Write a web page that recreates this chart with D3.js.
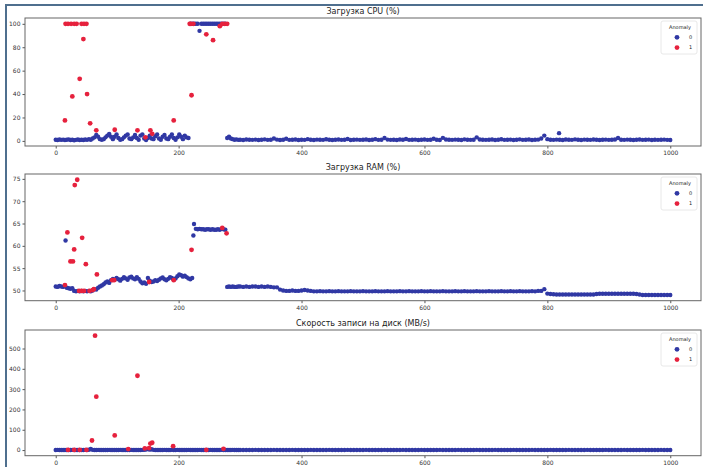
<!DOCTYPE html>
<html>
<head>
<meta charset="utf-8">
<script src="https://cdn.jsdelivr.net/npm/d3@7"></script>
<style>
  body { margin: 0; background: #fff; }
  svg { display: block; }
  text { font-family: "DejaVu Sans", sans-serif; fill: #333; }
</style>
</head>
<body>
<svg id="chart" width="703" height="467"></svg>
<script>
// ---- data ----
var titles = ["Загрузка CPU (%)", "Загрузка RAM (%)", "Скорость записи на диск (MB/s)"];
var legendTitle = "Anomaly";
var legendLabels = ["0", "1"];
var xTicks = [0, 200, 400, 600, 800, 1000];
var cpuTicks = [0, 20, 40, 60, 80, 100];
var ramTicks = [50, 55, 60, 65, 70, 75];
var diskTicks = [0, 100, 200, 300, 400, 500];

// samples at index 0,3,...,297 then 300,305,...,1000
var earlyIdx = d3.range(0, 300, 3);
var lateIdx = d3.range(300, 1001, 5);

var cpuEarly = [
  1.0, 0.8, 1.2, 0.9, 1.1,  0.7, 1.0, 1.3, 0.8, 1.0,
  0.6, 0.9, 1.2, 0.8, 1.0,  0.7, 1.2, 0.9, 1.5, 1.0,
  2.0, 3.0, 5.0, 3.5, 1.5,  1.0, 1.5, 3.0, 4.5, 6.0,
  3.5, 1.5, 3.5, 5.5, 2.5,  1.0, 1.5, 3.0, 4.5, 5.5,
  2.0, 1.5, 3.0, 5.0, 2.5,  1.0, 4.5, 5.5, 2.0, 0.8,
  2.5, 4.5, 2.0, 1.5, 4.0,  5.5, 2.0, 1.0, 3.5, 5.0,
  2.0, 1.5, 3.5, 5.5, 2.5,  1.0, 3.0, 5.5, 3.5, 1.5,
  4.5, 3.0, 2.5, 100, 100,  100, 100, 100, 94, 100,
  100, 100, 100, 100, 100,  100, 100, 100, 100, 100,
  100, 100, 100, 2.5, 3.5,  2.0, 1.5, 1.0, 1.3, 0.9
];
var cpuLate = [
  1.0, 0.8, 1.2, 1.0, 0.9, 1.1, 0.8, 1.0, 1.3, 0.9,
  1.0, 2.0, 1.1, 0.8, 1.0, 1.8, 0.9, 1.0, 1.2, 0.8,
  1.0, 0.9, 1.5, 1.0, 0.8, 1.1, 1.0, 0.9, 1.4, 1.0,
  0.8, 1.0, 1.2, 0.9, 1.0, 1.6, 0.8, 1.0, 1.1, 0.9,
  1.0, 1.2, 0.8, 1.0, 1.5, 0.9, 1.0, 2.5, 1.1, 0.9,
  1.0, 0.8, 1.2, 1.0, 1.6, 0.9, 1.0, 1.1, 0.8, 1.0,
  1.2, 0.9, 1.0, 1.8, 1.0, 0.8, 2.6, 1.2, 1.0, 0.9,
  1.1, 1.0, 0.8, 1.3, 1.0, 0.9, 1.0, 3.0, 1.2, 1.0,
  0.9, 1.0, 1.2, 0.8, 1.0, 1.4, 0.9, 1.0, 1.1, 0.8,
  1.0, 1.3, 0.9, 1.0, 1.2, 0.8, 1.0, 1.1, 2.0, 4.5,
  1.5, 1.0, 0.9, 1.1, 1.0, 0.8, 1.2, 1.0, 0.9, 1.3,
  1.0, 0.8, 1.1, 1.0, 0.9, 1.2, 1.0, 0.8, 1.0, 1.1,
  0.9, 1.0, 1.2, 2.5, 1.0, 0.9, 1.1, 1.0, 0.8, 1.0,
  1.2, 0.9, 1.0, 1.1, 0.8, 1.0, 0.9, 1.0, 1.1, 0.9,
  0.8
];
var cpuExtraIdx = [819];
var cpuExtraVal = [6.6];
var cpuAnomIdx = [15, 16, 20, 25, 27, 30, 34, 39, 42, 45, 46, 50, 51, 56, 66, 96, 133, 146, 154, 157, 192, 218, 220, 221, 224, 245, 256, 267, 271, 275, 279];
var cpuAnomVal = [17.5, 100, 100, 100, 38, 100, 100, 53, 100, 87, 100, 100, 40, 15, 9, 9.5, 9, 3, 9, 6, 17.5, 100, 100, 39, 100, 91, 86, 98, 100, 100, 100];

var ramEarly = [
  50.9, 50.8, 51.0, 50.9, 50.8,  51.0, 50.6, 50.5, 50.4, 50.5,
  49.9, 49.8, 49.9, 49.8, 49.9,  49.8, 49.9, 49.8, 49.9, 49.8,
  50.0, 50.3, 50.2, 50.6, 50.9,  51.1, 51.4, 51.8, 52.0, 51.7,
  52.3, 52.6, 52.4, 52.8, 52.5,  52.2, 52.6, 53.0, 52.7, 52.4,
  52.9, 53.1, 52.7, 52.5, 53.0,  52.6, 52.0, 51.6, 51.8, 51.5,
  52.8, 52.2, 51.9, 52.0, 52.3,  52.1, 52.4, 52.7, 52.9, 52.5,
  52.3, 52.6, 53.0, 52.8, 52.4,  52.7, 53.2, 53.6, 53.4, 53.1,
  53.3, 53.0, 52.7, 52.5, 52.8,  64.9, 63.8, 63.7, 63.8, 63.7,
  63.7, 63.6, 63.7, 63.7, 63.6,  63.7, 63.6, 63.6, 63.7, 63.6,
  63.8, 63.7, 63.6, 50.8, 50.9,  50.8, 50.9, 50.8, 50.8, 50.9
];
var ramLate = [
  50.9, 50.8, 50.9, 50.8, 50.9, 50.9, 50.8, 50.9, 50.8, 50.9,
  50.8, 50.7, 50.7, 50.2, 50.0, 49.9, 49.9, 50.0, 49.9, 49.9,
  50.0, 50.1, 50.0, 49.9, 49.8, 49.8, 49.85, 49.8, 49.8, 49.85,
  49.8, 49.8, 49.85, 49.8, 49.8, 49.8, 49.85, 49.8, 49.8, 49.8,
  49.85, 49.8, 49.8, 49.8, 49.85, 49.8, 49.8, 49.8, 49.85, 49.8,
  49.8, 49.8, 49.85, 49.8, 49.8, 49.85, 49.8, 49.8, 49.8, 49.85,
  49.8, 49.8, 49.85, 49.8, 49.8, 49.8, 49.85, 49.8, 49.8, 49.8,
  49.85, 49.8, 49.8, 49.85, 49.8, 49.8, 49.8, 49.85, 49.8, 49.8,
  49.8, 49.85, 49.8, 49.8, 49.8, 49.85, 49.8, 49.8, 49.85, 49.8,
  49.8, 49.85, 49.8, 49.8, 49.8, 49.85, 49.8, 49.9, 49.9, 50.3,
  49.3, 49.2, 49.15, 49.1, 49.1, 49.1, 49.1, 49.1, 49.1, 49.1,
  49.1, 49.1, 49.1, 49.1, 49.1, 49.1, 49.2, 49.25, 49.25, 49.25,
  49.25, 49.25, 49.25, 49.25, 49.25, 49.25, 49.25, 49.25, 49.25, 49.2,
  49.1, 49.0, 49.0, 49.0, 49.0, 49.0, 49.0, 49.0, 49.0, 49.0,
  49.0
];
var ramExtraIdx = [16, 224];
var ramExtraVal = [61.2, 62.3];
var ramAnomIdx = [15, 19, 24, 28, 30, 31, 35, 38, 42, 43, 46, 49, 55, 60, 62, 67, 92, 95, 152, 192, 221, 271, 278];
var ramAnomVal = [51.2, 63.0, 56.5, 56.5, 59.2, 73.6, 74.8, 49.9, 49.9, 61.8, 49.9, 55.9, 49.9, 50.1, 50.3, 53.6, 52.3, 52.3, 51.9, 52.3, 59.1, 64.0, 62.8];

var diskEarly = [
  0.5, 0.8, 0.4, 0.6, 0.5,  0.7, 0.4, 0.6, 0.5, 0.8,
  0.5, 0.6, 0.4, 0.7, 0.5,  0.6, 0.8, 0.5, 1.5, 5.0,
  1.0, 0.6, 0.5, 0.8, 0.6,  0.5, 0.7, 0.6, 0.5, 0.8,
  0.6, 0.5, 0.7, 0.6, 0.5,  0.8, 0.6, 0.5, 0.7, 0.6,
  0.5, 0.8, 0.6, 0.5, 0.7,  0.6, 0.5, 0.8, 1.5, 3.0,
  5.0, 2.0, 4.0, 1.0, 0.6,  0.5, 0.7, 0.6, 0.5, 0.8,
  0.6, 0.5, 0.7, 1.0, 0.6,  0.5, 0.8, 0.6, 0.5, 0.7,
  0.6, 0.5, 0.8, 0.6, 0.5,  0.7, 0.6, 0.5, 0.8, 0.6,
  0.5, 0.7, 0.6, 0.5, 0.8,  0.6, 0.5, 0.7, 0.6, 0.5,
  0.8, 0.6, 0.5, 0.7, 0.6,  0.5, 0.8, 0.6, 0.5, 0.7
];
var diskLate = [
  0.6, 0.5, 0.7, 0.6, 0.5, 0.8, 0.6, 0.5, 0.7, 0.6,
  0.5, 0.8, 0.6, 0.5, 0.7, 0.6, 0.5, 0.8, 0.6, 0.5,
  0.7, 0.6, 0.5, 0.8, 0.6, 0.5, 0.7, 0.6, 0.5, 0.8,
  0.6, 0.5, 0.7, 0.6, 0.5, 0.8, 0.6, 0.5, 0.7, 0.6,
  0.5, 0.8, 0.6, 0.5, 0.7, 0.6, 0.5, 0.8, 0.6, 0.5,
  0.7, 0.6, 0.5, 0.8, 0.6, 0.5, 0.7, 0.6, 0.5, 0.8,
  0.6, 0.5, 0.7, 0.6, 0.5, 0.8, 0.6, 0.5, 0.7, 0.6,
  0.5, 0.8, 0.6, 0.5, 0.7, 0.6, 0.5, 0.8, 0.6, 0.5,
  0.7, 0.6, 0.5, 0.8, 0.6, 0.5, 0.7, 0.6, 0.5, 0.8,
  0.6, 0.5, 0.7, 0.6, 0.5, 0.8, 0.6, 0.5, 0.7, 0.6,
  0.5, 0.8, 0.6, 0.5, 0.7, 0.6, 0.5, 0.8, 0.6, 0.5,
  0.7, 0.6, 0.5, 0.8, 0.6, 0.5, 0.7, 0.6, 0.5, 0.8,
  0.6, 0.5, 0.7, 0.6, 0.5, 0.8, 0.6, 0.5, 0.7, 0.6,
  0.5, 0.8, 0.6, 0.5, 0.7, 0.6, 0.5, 0.8, 0.6, 0.5,
  0.6
];
var diskExtraIdx = [];
var diskExtraVal = [];
var diskAnomIdx = [20, 30, 39, 50, 59, 64, 66, 96, 118, 133, 145, 152, 154, 157, 191, 245, 273];
var diskAnomVal = [0.5, 0.5, 0.5, 0.6, 47, 563, 263, 72, 5, 366, 8, 10, 32, 36, 19, 0.5, 6];

// ---- layout ----
var colors = ["#3038a4", "#e6213d"];
var svg = d3.select("#chart");
var left = 25, right = 701;

// outer frame of the screenshot
svg.append("rect")
  .attr("x", 6).attr("y", 5).attr("width", 720).attr("height", 480)
  .attr("fill", "none").attr("stroke", "#4f6f8e").attr("stroke-width", 2);

var x = d3.scaleLinear().domain([-50, 1050]).range([left, right]);

function zip(idx, vals) {
  var n = Math.min(idx.length, vals.length);
  return d3.range(n).map(function(i) { return {i: idx[i], v: vals[i]}; });
}

var panels = [
  {title: titles[0], top: 18, bottom: 146, ticks: cpuTicks,
   normal: zip(earlyIdx, cpuEarly).concat(zip(lateIdx, cpuLate), zip(cpuExtraIdx, cpuExtraVal)),
   anom: zip(cpuAnomIdx, cpuAnomVal)},
  {title: titles[1], top: 174, bottom: 300.7, ticks: ramTicks,
   normal: zip(earlyIdx, ramEarly).concat(zip(lateIdx, ramLate), zip(ramExtraIdx, ramExtraVal)),
   anom: zip(ramAnomIdx, ramAnomVal)},
  {title: titles[2], top: 330, bottom: 455.7, ticks: diskTicks,
   normal: zip(earlyIdx, diskEarly).concat(zip(lateIdx, diskLate), zip(diskExtraIdx, diskExtraVal)),
   anom: zip(diskAnomIdx, diskAnomVal)}
];

panels.forEach(function(p) {
  var all = p.normal.concat(p.anom);
  var lo = d3.min(all, function(d) { return d.v; });
  var hi = d3.max(all, function(d) { return d.v; });
  var pad = (hi - lo) * 0.05;
  var y = d3.scaleLinear().domain([lo - pad, hi + pad]).range([p.bottom, p.top]);

  var g = svg.append("g");

  // title
  g.append("text")
    .attr("x", (left + right) / 2).attr("y", p.top - 4)
    .attr("text-anchor", "middle")
    .style("font-size", "8px").style("fill", "#222")
    .text(p.title);

  // axes
  var xa = g.append("g").attr("transform", "translate(0," + p.bottom + ")")
    .call(d3.axisBottom(x).tickValues(xTicks).tickFormat(d3.format("d"))
      .tickSize(2.5).tickPadding(2.5));
  var ya = g.append("g").attr("transform", "translate(" + left + ",0)")
    .call(d3.axisLeft(y).tickValues(p.ticks).tickSize(2.5).tickPadding(2));
  [xa, ya].forEach(function(a) {
    a.select(".domain").remove();
    a.selectAll("line").attr("stroke", "#555");
    a.selectAll("text").attr("fill", "#333").style("font-size", "6px");
  });

  // points
  var plot = g.append("g");
  plot.selectAll("circle.n").data(p.normal).join("circle")
    .attr("class", "n")
    .attr("cx", function(d) { return x(d.i); })
    .attr("cy", function(d) { return y(d.v); })
    .attr("r", 2.2)
    .attr("fill", colors[0]);
  plot.selectAll("circle.a").data(p.anom).join("circle")
    .attr("class", "a")
    .attr("cx", function(d) { return x(d.i); })
    .attr("cy", function(d) { return y(d.v); })
    .attr("r", 2.4)
    .attr("fill", colors[1]);

  // spines
  g.append("rect")
    .attr("x", left).attr("y", p.top)
    .attr("width", right - left).attr("height", p.bottom - p.top)
    .attr("fill", "none").attr("stroke", "#666").attr("stroke-width", 1);

  // legend
  var lg = g.append("g").attr("transform", "translate(661," + (p.top + 3) + ")");
  lg.append("rect").attr("width", 36).attr("height", 33).attr("rx", 2)
    .attr("fill", "#fff").attr("fill-opacity", 0.8)
    .attr("stroke", "#e2e2e2").attr("stroke-width", 0.8);
  lg.append("text").attr("x", 19).attr("y", 8)
    .attr("text-anchor", "middle")
    .style("font-size", "5px").style("fill", "#222")
    .text(legendTitle);
  legendLabels.forEach(function(lab, k) {
    var cy = 16.3 + k * 10.3;
    lg.append("circle").attr("cx", 16).attr("cy", cy).attr("r", 2.4)
      .attr("fill", colors[k]);
    lg.append("text").attr("x", 28).attr("y", cy + 1.8)
      .style("font-size", "5px").style("fill", "#222")
      .text(lab);
  });
});
</script>
</body>
</html>
